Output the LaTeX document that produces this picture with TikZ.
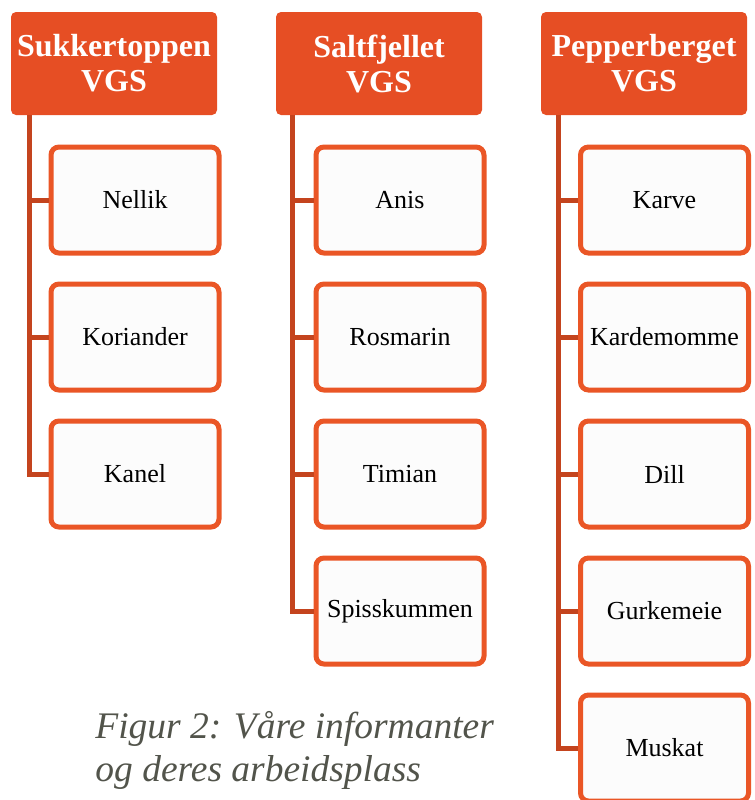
\documentclass[tikz,border=0pt]{standalone}
\usepackage{fontspec}
\setmainfont{Liberation Serif}
\usetikzlibrary{positioning}
\definecolor{hdrfill}{HTML}{E64E24}
\definecolor{boxline}{HTML}{EA5626}
\definecolor{linkline}{HTML}{C4441E}
\definecolor{captxt}{HTML}{52544B}

\begin{document}
\begin{tikzpicture}[x=0.5pt,y=-0.5pt,node distance=13pt,
    school/.style={rectangle,rounded corners=2.5pt,fill=hdrfill,text=white,
        minimum width=103pt,minimum height=51.5pt,inner sep=0pt,align=center,
        font=\bfseries\fontsize{16}{17.5}\selectfont},
    spice/.style={rectangle,rounded corners=4pt,draw=boxline,line width=2.5pt,
        fill=black!1,minimum width=84pt,minimum height=53pt,inner sep=0pt,
        font=\fontsize{13}{15}\selectfont},
    link/.style={draw=linkline,line width=2.5pt}]
    \useasboundingbox (0,0) rectangle (755,800);

    % skolene
    \node[school] (sukk) at (114,63.5) {Sukkertoppen\\VGS};
    \node[school] (salt) at (379,63.5) {Saltfjellet\\VGS};
    \node[school] (pepp) at (644,63.5) {Pepperberget\\VGS};

    % informanter
    \node[spice]            (nellik)    at (135,200)    {Nellik};
    \node[spice]            (koriander) [below=of nellik]    {Koriander};
    \node[spice]            (kanel)     [below=of koriander] {Kanel};

    \node[spice]            (anis)      at (400,200)    {Anis};
    \node[spice]            (rosmarin)  [below=of anis]      {Rosmarin};
    \node[spice]            (timian)    [below=of rosmarin]  {Timian};
    \node[spice]            (spisskum)  [below=of timian]    {Spisskummen};

    \node[spice]            (karve)     at (664.5,200)  {Karve};
    \node[spice]            (kardemomme) [below=of karve]    {Kardemomme};
    \node[spice]            (dill)      [below=of kardemomme] {Dill};
    \node[spice]            (gurkemeie) [below=of dill]      {Gurkemeie};
    \node[spice]            (muskat)    [below=of gurkemeie] {Muskat};

    \coordinate (r1) at ([xshift=9.5pt]sukk.south west);
    \coordinate (r2) at ([xshift=8.5pt]salt.south west);
    \coordinate (r3) at ([xshift=9pt]pepp.south west);

    \foreach \s in {nellik,koriander,kanel}
        \draw[link] (r1) |- (\s.west);
    \foreach \s in {anis,rosmarin,timian,spisskum}
        \draw[link] (r2) |- (\s.west);
    \foreach \s in {karve,kardemomme,dill,gurkemeie,muskat}
        \draw[link] (r3) |- (\s.west);

    \node[anchor=north west,inner sep=0pt,align=left,text=captxt,
        font=\itshape\fontsize{18.75}{21.5}\selectfont] (figtekst) at (95,711)
        {Figur 2: Våre informanter\\og deres arbeidsplass};
\end{tikzpicture}
\end{document}
